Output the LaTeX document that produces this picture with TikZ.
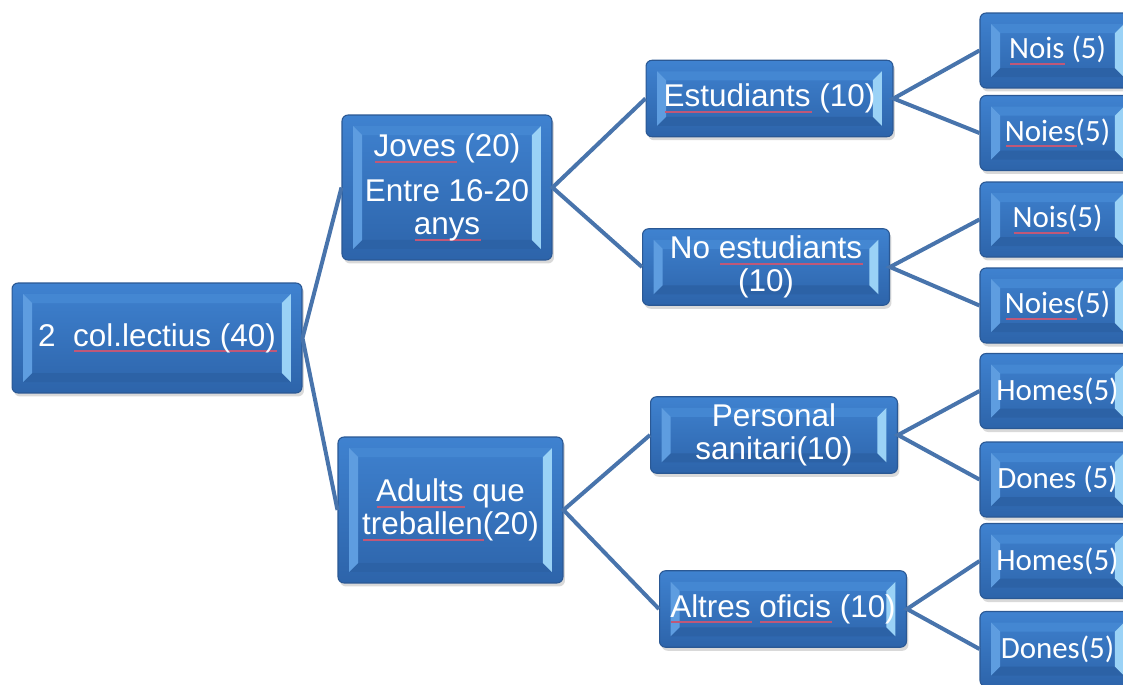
\documentclass[tikz,border=0pt]{standalone}
\usepackage{fontspec}
\setmainfont{Liberation Sans}
\newfontfamily\calib{Carlito}
\usetikzlibrary{shadows}
\definecolor{boxtop}{HTML}{3F82D0}
\definecolor{boxbot}{HTML}{2D64AA}
\definecolor{boxedge}{HTML}{2A5894}
\definecolor{bevL}{HTML}{5E9DE0}
\definecolor{bevR}{HTML}{9AD2F6}
\definecolor{bevT}{HTML}{4487D2}
\definecolor{bevB}{HTML}{2C62A6}
\definecolor{linkcol}{HTML}{4874AC}
\definecolor{squig}{HTML}{C05878}
\newsavebox{\spellbox}
\newcommand{\spellu}[1]{\sbox{\spellbox}{#1}\rlap{\begin{pgfpicture}\pgfsetbaseline{0pt}\pgfsetcolor{squig}\pgfsetlinewidth{1.1pt}\pgfsetbuttcap\pgfpathmoveto{\pgfpoint{0pt}{-2.9pt}}\pgfpathlineto{\pgfpoint{\wd\spellbox}{-2.9pt}}\pgfusepath{stroke}\end{pgfpicture}}\usebox{\spellbox}}
\tikzset{
  bevelbox/.style={rounded corners=0.12cm, draw=boxedge, line width=0.6pt,
    top color=boxtop, bottom color=boxbot, text=white, inner sep=0pt, align=center,
    font=\fontsize{17.9}{18.8}\selectfont,
    drop shadow={opacity=0.3, shadow xshift=0.04cm, shadow yshift=-0.07cm},
    path picture={
      \begin{scope}[sharp corners]
        \path (path picture bounding box.south west) ++(0.22cm,0.22cm) coordinate (pp1) ++(0.18cm,0.18cm) coordinate (pp2);
        \path (path picture bounding box.north east) ++(-0.22cm,-0.22cm) coordinate (pp3) ++(-0.18cm,-0.18cm) coordinate (pp4);
        \fill[bevT] (pp1 |- pp3) -- (pp3) -- (pp4) -- (pp2 |- pp4) -- cycle;
        \fill[bevB] (pp1) -- (pp3 |- pp1) -- (pp4 |- pp2) -- (pp2) -- cycle;
        \fill[bevL] (pp1) -- (pp1 |- pp3) -- (pp2 |- pp4) -- (pp2) -- cycle;
        \fill[bevR] (pp3) -- (pp3 |- pp1) -- (pp4 |- pp2) -- (pp4) -- cycle;
      \end{scope}
    }},
  midbox/.style={bevelbox, minimum width=4.94cm, minimum height=1.53cm},
  leafbox/.style={bevelbox, minimum width=3.1cm, minimum height=1.5cm,
    font=\calib\fontsize{17.6}{20}\selectfont},
  link/.style={draw=linkcol, line width=0.08cm}
}
\begin{document}
\begin{tikzpicture}[x=0.02cm, y=-0.02cm]
\useasboundingbox (0,0) rectangle (1123,684);
\clip (0,0) rectangle (1123,684);
% level 0
\node[bevelbox, minimum width=5.8cm, minimum height=2.2cm] (root) at (157,338) {2\ \ \spellu{col.lectius (40)}};
% level 1
\node[bevelbox, minimum width=4.2cm, minimum height=2.9cm] (joves) at (447,187.5) {\spellu{Joves} (20)\\[6.8pt]Entre 16-20\\\spellu{anys}};
\node[bevelbox, minimum width=4.5cm, minimum height=2.92cm] (adults) at (450.5,510) {\spellu{Adults} que\\\spellu{treballen}(20)};
% level 2
\node[midbox] (estud) at (769.5,98.5) {\spellu{Estudiants} (10)};
\node[midbox] (noestud) at (766,267) {No \spellu{estudiants}\\(10)};
\node[midbox] (sanit) at (774,435) {Personal\\sanitari(10)};
\node[midbox] (altres) at (783,609) {\spellu{Altres} \spellu{oficis} (10)};
% leaves
\node[leafbox] (l1) at (1057.5,50.5) {\spellu{Nois} (5)};
\node[leafbox] (l2) at (1057.5,133) {\spellu{Noies}(5)};
\node[leafbox] (l3) at (1057.5,219.5) {\spellu{Nois}(5)};
\node[leafbox] (l4) at (1057.5,305.5) {\spellu{Noies}(5)};
\node[leafbox] (l5) at (1057.5,391) {Homes(5)};
\node[leafbox] (l6) at (1057.5,479.5) {Dones (5)};
\node[leafbox] (l7) at (1057.5,561) {Homes(5)};
\node[leafbox] (l8) at (1057.5,649) {Dones(5)};
% connectors
\draw[link] (joves.west) -- (root.east) -- (adults.west);
\draw[link] (estud.west) -- (joves.east) -- (noestud.west);
\draw[link] (sanit.west) -- (adults.east) -- (altres.west);
\draw[link] (l1.west) -- (estud.east) -- (l2.west);
\draw[link] (l3.west) -- (noestud.east) -- (l4.west);
\draw[link] (l5.west) -- (sanit.east) -- (l6.west);
\draw[link] (l7.west) -- (altres.east) -- (l8.west);
\end{tikzpicture}
\end{document}
